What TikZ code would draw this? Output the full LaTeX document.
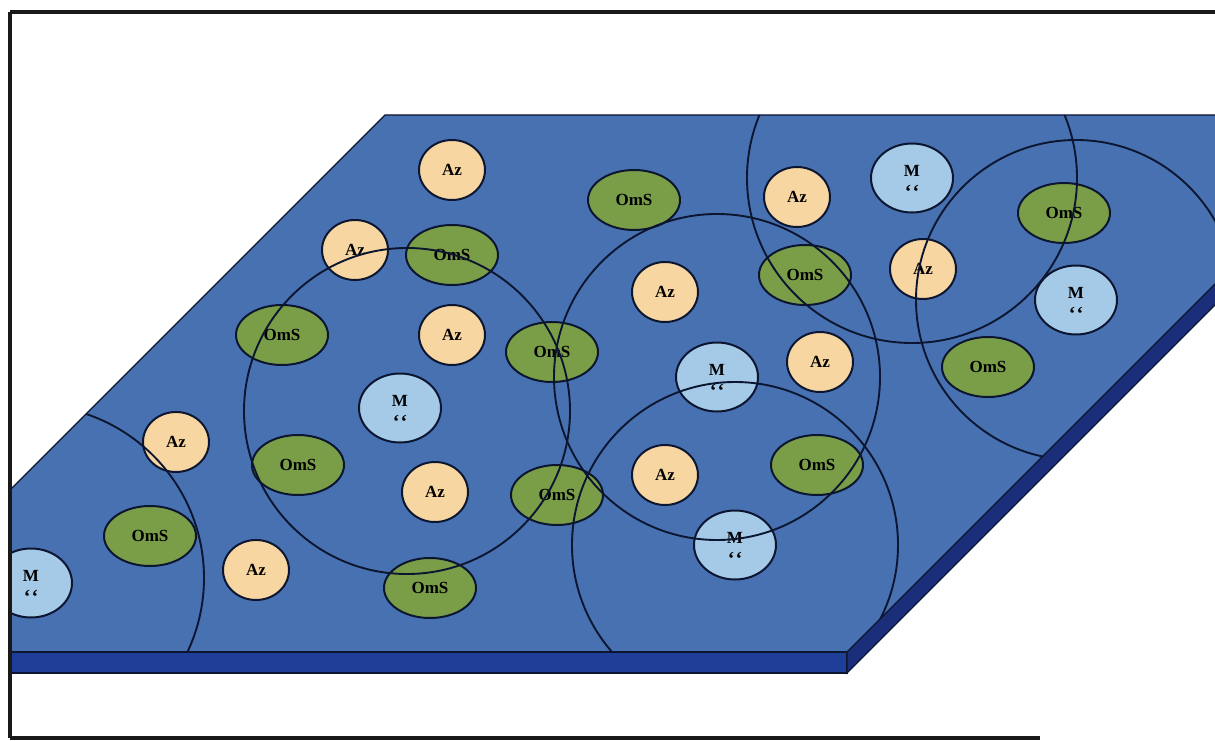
\documentclass[tikz,border=0pt]{standalone}
\usepackage{fontspec}
\setmainfont{Liberation Serif}
\usetikzlibrary{shapes.geometric}
\definecolor{surf}{RGB}{72,113,178}
\definecolor{frontc}{RGB}{30,62,152}
\definecolor{sidec}{RGB}{26,46,122}
\definecolor{edgec}{RGB}{12,22,48}
\definecolor{azc}{RGB}{247,214,162}
\definecolor{omsc}{RGB}{122,158,72}
\definecolor{mc}{RGB}{165,202,232}
\begin{document}
\begin{tikzpicture}[x=1pt,y=-1pt,
  base/.style={ellipse, draw=edgec, line width=2pt, inner sep=0pt, font=\fontsize{17}{17}\selectfont\bfseries},
  az/.style={base, fill=azc, minimum width=66pt, minimum height=60pt},
  oms/.style={base, fill=omsc, minimum width=92pt, minimum height=60pt},
  mn/.style={base, fill=mc, minimum width=82pt, minimum height=69pt},
  mlab/.style={inner sep=0pt, font=\fontsize{17}{17}\selectfont\bfseries},
  mmark/.style={inner sep=0pt, anchor=base, font=\fontsize{20}{20}\selectfont\bfseries},
  rangecircle/.style={draw=edgec, line width=1.9pt},
  framec/.style={draw=black!90, line width=3.5pt}]
\useasboundingbox (0,0) rectangle (1215,741);
\clip (0,0) rectangle (1215,741);
% slab
\fill[surf] (385,115) -- (1384,115) -- (847,652) -- (10,652) -- (10,490) -- cycle;
\filldraw[fill=frontc, draw=edgec, line width=1.3pt] (10,652) -- (847,652) -- (847,673) -- (10,673) -- cycle;
\filldraw[fill=sidec, draw=edgec, line width=1.3pt] (847,652) -- (1384,115) -- (1384,136) -- (847,673) -- cycle;
\draw[edgec, line width=1.3pt] (10,490) -- (385,115) -- (1384,115);
\begin{scope}
\clip (10,0) rectangle (1215,741);
% Az
\node[az] (a1) at (452,170) {Az};
\node[az] (a2) at (355,250) {Az};
\node[az] (a3) at (452,335) {Az};
\node[az] (a4) at (176,442) {Az};
\node[az] (a5) at (435,492) {Az};
\node[az] (a6) at (256,570) {Az};
\node[az] (a7) at (665,292) {Az};
\node[az] (a8) at (797,197) {Az};
\node[az] (a9) at (923,269) {Az};
\node[az] (a10) at (820,362) {Az};
\node[az] (a11) at (665,475) {Az};
% OmS
\node[oms] (o1) at (634,200) {OmS};
\node[oms] (o2) at (452,255) {OmS};
\node[oms] (o3) at (282,335) {OmS};
\node[oms] (o4) at (552,352) {OmS};
\node[oms] (o5) at (298,465) {OmS};
\node[oms] (o6) at (557,495) {OmS};
\node[oms] (o7) at (150,536) {OmS};
\node[oms] (o8) at (430,588) {OmS};
\node[oms] (o9) at (805,275) {OmS};
\node[oms] (o10) at (817,465) {OmS};
\node[oms] (o11) at (1064,213) {OmS};
\node[oms] (o12) at (988,367) {OmS};
% M
\foreach \n/\px/\py in {m1/912/178, m2/1076/300, m3/400/408, m4/717/377, m5/735/545, m6/31/583}{
  \node[mn] (\n) at (\px,\py) {};
  \node[mlab] (\n t) at ([yshift=7pt]\n.center) {M};
  \node[mmark] (\n q) at ([yshift=-20pt]\n.center) {‘\kern1pt‘};
}
\end{scope}
% range circles
\begin{scope}
\clip (385,115) -- (1384,115) -- (847,652) -- (10,652) -- (10,490) -- cycle;
\draw[rangecircle] (m1.center) circle[radius=165];
\draw[rangecircle] (m2.center) circle[radius=160];
\draw[rangecircle] ([xshift=7pt,yshift=-3pt]m3.center) circle[radius=163];
\draw[rangecircle] (m4.center) circle[radius=163];
\draw[rangecircle] (m5.center) circle[radius=163];
\draw[rangecircle] ([yshift=5pt]m6.center) circle[radius=173];
\end{scope}
% frame
\draw[framec] (10,12) -- (1215,12);
\draw[framec] (10,12) -- (10,738);
\draw[framec] (10,738) -- (1040,738);
\end{tikzpicture}
\end{document}
